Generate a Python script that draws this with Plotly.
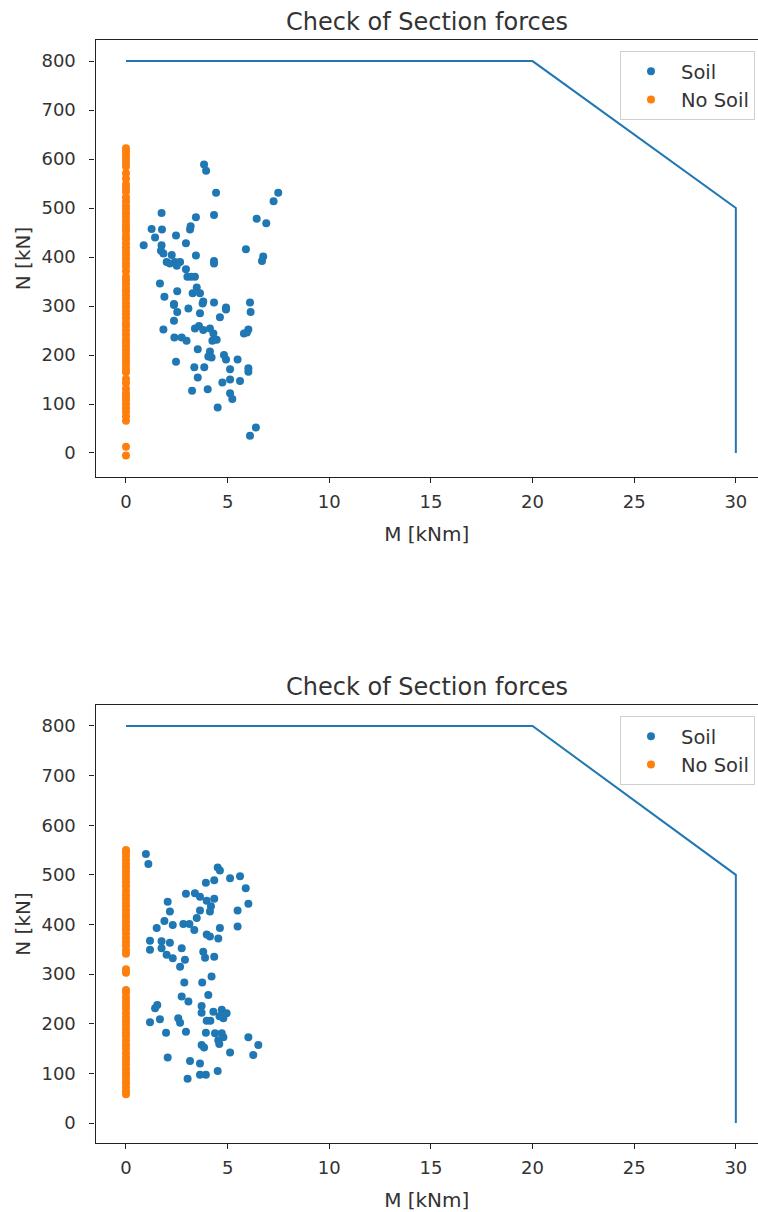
import plotly.graph_objects as go

# Interaction envelope (M, N)
env_m = [0, 20, 30, 30]
env_n = [800, 800, 500, 0]

# Case 1: section forces with soil
soil1_m = [3.84, 3.94, 4.43, 7.49, 7.26, 1.75, 3.44, 4.33, 6.43, 6.90, 1.26, 1.77, 3.15, 3.18,
           1.43, 2.46, 2.95, 0.87, 1.75, 1.72, 5.90, 1.84, 2.25, 3.44, 6.75, 6.69, 2.00, 2.41,
           2.66, 2.16, 2.50, 4.33, 4.33, 2.95, 3.02, 3.39, 3.20, 1.67, 3.48, 2.52, 3.28, 3.64,
           1.89, 2.36, 3.80, 4.33, 4.92, 6.10, 3.07, 2.36, 2.52, 3.64, 3.77, 4.92, 4.62, 6.13,
           2.36, 1.84, 2.38, 2.74, 2.98, 3.39, 3.59, 3.80, 4.13, 4.30, 4.46, 4.25, 5.80, 6.02,
           5.95, 3.53, 4.13, 4.05, 4.21, 4.82, 4.92, 5.49, 2.46, 3.36, 3.85, 5.12, 6.02, 6.02,
           3.53, 4.74, 5.12, 5.61, 3.25, 4.02, 5.12, 5.23, 4.51, 6.39, 6.10]
soil1_n = [589, 576, 531, 531, 514, 490, 481, 486, 478, 469, 457, 456, 456, 463,
           440, 444, 428, 424, 424, 413, 416, 407, 404, 403, 401, 392, 390, 390,
           390, 387, 382, 392, 387, 375, 360, 360, 360, 346, 338, 330, 326, 326,
           319, 304, 309, 307, 297, 307, 295, 302, 288, 285, 305, 293, 277, 288,
           270, 252, 236, 236, 229, 254, 259, 251, 254, 244, 231, 229, 244, 252,
           246, 212, 207, 197, 195, 200, 191, 191, 186, 175, 175, 171, 173, 166,
           154, 144, 150, 147, 127, 130, 122, 110, 93, 52, 35]

# Case 1: section forces without soil (M = 0)
nosoil1_n = [622, 615, 608, 600, 592, 585, 571, 560, 548, 541, 533, 522, 514, 505, 498,
             490, 482, 474, 466, 458, 452, 443, 437, 428, 420, 412, 404, 396, 388, 380,
             371, 360, 352, 345, 337, 330, 322, 315, 306, 298, 290, 283, 275, 266, 259,
             250, 242, 233, 226, 218, 210, 203, 195, 187, 180, 172, 165, 151, 143, 131,
             122, 115, 108, 100, 92, 84, 75, 66, 13, -5]
nosoil1_m = [0] * len(nosoil1_n)

# Case 2: section forces with soil
soil2_m = [0.98, 1.10, 4.51, 4.62, 5.12, 5.61, 4.34, 3.93, 5.89, 2.95, 3.39, 3.64, 4.34, 3.97,
           2.05, 6.02, 4.18, 2.16, 3.64, 4.13, 5.49, 3.48, 1.89, 2.30, 2.82, 3.12, 1.51, 3.36,
           5.49, 4.62, 3.97, 4.13, 4.54, 1.18, 1.75, 2.16, 1.18, 1.75, 2.74, 3.80, 2.00, 3.89,
           4.34, 2.30, 2.90, 2.66, 4.21, 2.87, 3.75, 4.05, 2.74, 3.07, 1.54, 1.43, 3.72, 3.72,
           4.30, 4.71, 4.95, 4.79, 4.60, 2.57, 1.67, 1.18, 2.66, 3.97, 4.15, 1.97, 2.95, 3.93,
           4.38, 4.71, 4.79, 4.54, 6.02, 6.51, 3.72, 3.84, 4.59, 5.12, 6.26, 2.05, 3.15, 3.64,
           4.51, 3.64, 3.93, 3.03]
soil2_n = [542, 522, 515, 509, 493, 497, 489, 484, 473, 462, 463, 456, 452, 448,
           446, 442, 437, 426, 428, 426, 428, 413, 407, 399, 401, 401, 393, 389,
           396, 393, 380, 376, 372, 367, 366, 363, 349, 352, 352, 345, 339, 333,
           335, 332, 329, 315, 295, 283, 283, 258, 255, 245, 238, 231, 236, 222,
           224, 228, 221, 211, 215, 211, 209, 203, 202, 206, 206, 182, 184, 182,
           181, 181, 173, 167, 173, 157, 157, 152, 159, 142, 137, 132, 125, 120,
           105, 97, 97, 89]

# Case 2: section forces without soil (M = 0)
nosoil2_n = [550, 545, 538, 530, 522, 515, 507, 500, 492, 485, 477, 468, 460, 452, 444,
             437, 428, 420, 413, 405, 397, 390, 382, 373, 365, 357, 348, 341, 310, 303,
             268, 262, 253, 245, 238, 230, 221, 213, 205, 198, 190, 182, 175, 166, 158,
             150, 141, 133, 126, 118, 110, 102, 95, 87, 80, 72, 64, 58]
nosoil2_m = [0] * len(nosoil2_n)

x_ticks = [0, 5, 10, 15, 20, 25, 30]
y_ticks = [0, 100, 200, 300, 400, 500, 600, 700, 800]

BLUE = "#1f77b4"
ORANGE = "#ff7f0e"
FONT = "DejaVu Sans"
TXT = "#333333"

W, H = 758, 1212
fig = go.Figure()

panels = [
    dict(xa="x", ya="y", leg="legend", sm=soil1_m, sn=soil1_n, om=nosoil1_m, on=nosoil1_n),
    dict(xa="x2", ya="y2", leg="legend2", sm=soil2_m, sn=soil2_n, om=nosoil2_m, on=nosoil2_n),
]
for p in panels:
    fig.add_trace(go.Scatter(x=env_m, y=env_n, mode="lines", line=dict(color=BLUE, width=2),
                             xaxis=p["xa"], yaxis=p["ya"], showlegend=False, hoverinfo="skip"))
    fig.add_trace(go.Scatter(x=p["sm"], y=p["sn"], mode="markers", name="Soil",
                             marker=dict(color=BLUE, size=8, line=dict(width=0)),
                             xaxis=p["xa"], yaxis=p["ya"], legend=p["leg"]))
    fig.add_trace(go.Scatter(x=p["om"], y=p["on"], mode="markers", name="No Soil",
                             marker=dict(color=ORANGE, size=8, line=dict(width=0)),
                             xaxis=p["xa"], yaxis=p["ya"], legend=p["leg"]))

x0 = 95.5 / W
axis_common = dict(showline=True, linecolor="#222", linewidth=1.2, ticks="outside",
                   ticklen=5, tickwidth=1.2, tickcolor="#222", showgrid=False, zeroline=False,
                   tickfont=dict(family=FONT, size=18, color=TXT))

def xaxis(anchor):
    return dict(axis_common, domain=[x0, 1], range=[-1.5, 31.09], tickvals=x_ticks,
                mirror=True, anchor=anchor, ticklabelstandoff=3,
                title=dict(text="M [kNm]", font=dict(family=FONT, size=20, color=TXT), standoff=16))

def yaxis(dom, rng, anchor):
    return dict(axis_common, domain=dom, range=rng, tickvals=y_ticks, anchor=anchor,
                ticklabelstandoff=10,
                title=dict(text="N [kN]", font=dict(family=FONT, size=20, color=TXT), standoff=5))

legend_style = dict(bgcolor="rgba(255,255,255,0.8)", bordercolor="#d0d0d0", borderwidth=1,
                    font=dict(family=FONT, size=19.5, color=TXT), xanchor="right", yanchor="top",
                    x=755 / W, itemsizing="trace", itemwidth=50, tracegroupgap=0)

title_font = dict(family=FONT, size=24, color=TXT)

fig.update_layout(
    width=W, height=H, margin=dict(l=0, r=0, t=0, b=0),
    paper_bgcolor="white", plot_bgcolor="white",
    xaxis=xaxis("y"),
    yaxis=yaxis([1 - 477 / H, 1 - 40 / H], [-49, 843], "x"),
    xaxis2=xaxis("y2"),
    yaxis2=yaxis([1 - 1143 / H, 1 - 705 / H], [-40.3, 842.3], "x2"),
    legend=dict(legend_style, y=1 - 51 / H),
    legend2=dict(legend_style, y=1 - 716 / H),
    annotations=[
        dict(text="Check of Section forces", x=(x0 + 1) / 2, y=1 - 22 / H, xref="paper",
             yref="paper", xanchor="center", yanchor="middle", showarrow=False, font=title_font),
        dict(text="Check of Section forces", x=(x0 + 1) / 2, y=1 - 687 / H, xref="paper",
             yref="paper", xanchor="center", yanchor="middle", showarrow=False, font=title_font),
    ],
)

fig.write_html("out.html")
